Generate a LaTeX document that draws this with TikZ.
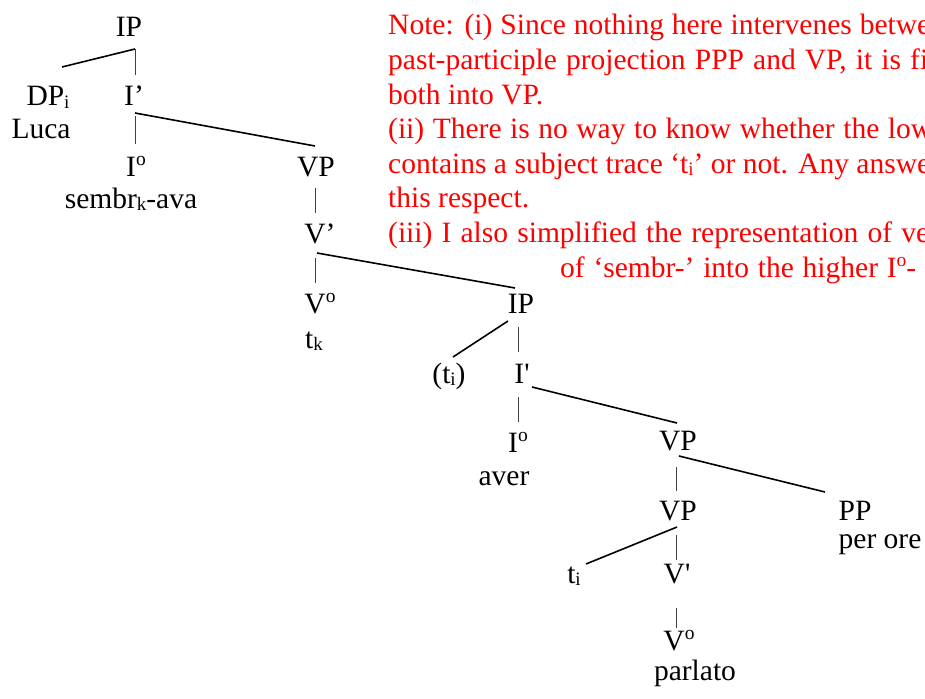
\documentclass[tikz,border=0pt]{standalone}
\usepackage{fontspec}
\setmainfont{Liberation Serif}
\newfontfamily\nolig{Liberation Serif}
\newcommand\sbs[1]{\raisebox{-2.5pt}{\fontsize{19}{19}\selectfont #1}}
\newcommand\sps[1]{\raisebox{10.5pt}{\fontsize{19.5}{19.5}\selectfont #1}}
\newcommand\treefont{\fontsize{29.5}{34}\selectfont}
\newcommand\notefont{\fontsize{29.5}{34.5}\selectfont}
\newcommand\jline[2]{\makebox[#1][s]{#2}}
\hbadness=100000 \hfuzz=100pt
\begin{document}
\begin{tikzpicture}[x=1pt,y=-1pt,
  lab/.style={anchor=base,inner sep=0pt,font=\treefont},
  note/.style={anchor=base west,inner sep=0pt,text=red,font=\notefont},
  branch/.style={line width=1.6pt,black},
  stem/.style={line width=1pt,black!75}]
\useasboundingbox (0,0) rectangle (925,698);
\clip (0,0) rectangle (925,698);
% tree labels
\node[lab] (IPa) at (129,37) {IP};
\node[lab] (DP) at (48,106) {DP\sbs{i}};
\node[lab] (Ia) at (134,106) {I’};
\node[lab] (Luca) at (41,139) {Luca};
\node[lab] (Ioa) at (136,176) {I\sps{o}};
\node[lab] (VPa) at (316,176) {VP};
\node[lab] (sembr) at (131,208) {sembr\sbs{k}-ava};
\node[lab] (Va) at (320,243) {V’};
\node[lab] (Voa) at (320,313) {V\sps{o}};
\node[lab] (tk) at (314,348) {t\sbs{k}};
\node[lab] (IPb) at (521,313) {IP};
\node[lab] (tia) at (449,383) {(t\sbs{i})};
\node[lab] (Ib) at (522,383) {I{\nolig'}};
\node[lab] (Iob) at (518,452) {I\sps{o}};
\node[lab] (aver) at (504,485) {aver};
\node[lab] (VPb) at (678,450) {VP};
\node[lab] (VPc) at (678,520) {VP};
\node[lab] (PP) at (855,520) {PP};
\node[lab] (perore) at (880,548) {per ore};
\node[lab] (tib) at (574,583) {t\sbs{i}};
\node[lab] (Vb) at (677,583) {V{\nolig'}};
\node[lab] (Vob) at (679,650) {V\sps{o}};
\node[lab] (parlato) at (695,680) {parlato};
% connector end points
\coordinate (c1) at (135,49);   \coordinate (c2) at (62,67);   \coordinate (c3) at (135,75);
\coordinate (c4) at (135,113);  \coordinate (c5) at (315,146);
\coordinate (c6) at (135,116);  \coordinate (c7) at (135,144);
\coordinate (c8) at (315,188);  \coordinate (c9) at (315,213);
\coordinate (c10) at (317,253); \coordinate (c11) at (515,288);
\coordinate (c12) at (315,258); \coordinate (c13) at (315,283);
\coordinate (c14) at (508,321); \coordinate (c15) at (453,357);
\coordinate (c16) at (518,327); \coordinate (c17) at (518,352);
\coordinate (c18) at (532,387); \coordinate (c19) at (677,423);
\coordinate (c20) at (518,397); \coordinate (c21) at (518,422);
\coordinate (c22) at (679,456); \coordinate (c23) at (825,492);
\coordinate (c24) at (676,467); \coordinate (c25) at (676,491);
\coordinate (c26) at (677,527); \coordinate (c27) at (586,564);
\coordinate (c28) at (676,535); \coordinate (c29) at (676,560);
\coordinate (c30) at (676,608); \coordinate (c31) at (676,628);
% connectors
\draw[branch] (c1) -- (c2);
\draw[stem] (c1) -- (c3);
\draw[branch] (c4) -- (c5);
\draw[stem] (c6) -- (c7);
\draw[stem] (c8) -- (c9);
\draw[branch] (c10) -- (c11);
\draw[stem] (c12) -- (c13);
\draw[branch] (c14) -- (c15);
\draw[stem] (c16) -- (c17);
\draw[branch] (c18) -- (c19);
\draw[stem] (c20) -- (c21);
\draw[branch] (c22) -- (c23);
\draw[stem] (c24) -- (c25);
\draw[branch] (c26) -- (c27);
\draw[stem] (c28) -- (c29);
\draw[stem] (c30) -- (c31);
% note
\node[note] (n1) at (388,35) {\jline{542pt}{Note: (i) Since nothing here intervenes betwe}};
\node[note] (n2) at (388,70) {\jline{540pt}{past-participle projection PPP and VP, it is fi}};
\node[note] (n3) at (388,104) {both into VP.};
\node[note] (n4) at (388,138) {\jline{544pt}{(ii) There is no way to know whether the low}};
\node[note] (n5) at (388,173) {\jline{542pt}{contains a subject trace ‘t\sbs{i}’ or not. Any answe}};
\node[note] (n6) at (388,207) {this respect.};
\node[note] (n7) at (388,242) {\jline{541pt}{(iii) I also simplified the representation of ve}};
\node[note] (n8) at (560,277) {\jline{356pt}{of ‘sembr-’ into the higher I\sps{o}-}};
\end{tikzpicture}
\end{document}
